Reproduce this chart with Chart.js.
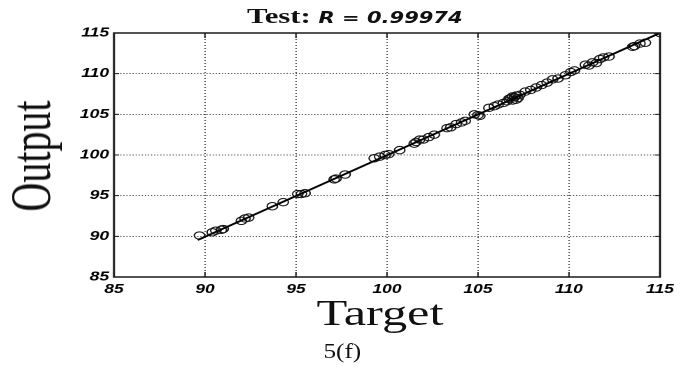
<!DOCTYPE html>
<html>
<head>
<meta charset="utf-8">
<title>Test regression</title>
<script src="https://cdn.jsdelivr.net/npm/chart.js@4/dist/chart.umd.min.js"></script>
<style>
  html, body { margin: 0; padding: 0; background: #fff; overflow: hidden; }
  body { width: 689px; height: 368px; position: relative; }
  /* the whole figure is laid out on a 492px-wide stage and widened 1.4x */
  #stage { position: absolute; left: 0; top: 0; width: 492px; height: 368px;
           transform: scaleX(1.4); transform-origin: 0 0; }
  #chart { position: absolute; left: 0; top: 0; width: 492px; height: 368px; }
  .txt { position: absolute; white-space: nowrap; color: #111; }
  #title { left: 176.4px; top: 4.6px; line-height: 22px; }
  #title .lead { font-family: "Liberation Serif", "Times New Roman", serif; font-weight: bold; font-size: 22px; }
  #title .stat { font-family: "DejaVu Sans", sans-serif; font-weight: bold; font-style: italic; font-size: 15px; }
  #ylab { font-family: "Liberation Serif", "Times New Roman", serif; font-size: 40px; line-height: 40px;
          left: 22.9px; top: 155.9px; transform: translate(-50%, -50%) rotate(-90deg); }
  #xlab { font-family: "Liberation Serif", "Times New Roman", serif; font-size: 36px; line-height: 36px;
          left: 271.4px; top: 295px; transform: translateX(-50%); }
  #cap { font-family: "Liberation Serif", "Times New Roman", serif; font-size: 22px; line-height: 22px;
         left: 231.4px; top: 339.6px; transform: scaleX(0.82); transform-origin: 0 0; }
</style>
</head>
<body>
<div id="stage">
  <canvas id="chart" width="492" height="368"></canvas>
  <div id="title" class="txt"><span class="lead">Test: </span><span class="stat">R = 0.99974</span></div>
  <div id="ylab" class="txt">Output</div>
  <div id="xlab" class="txt">Target</div>
  <div id="cap" class="txt">5(f)</div>
</div>
<script>
// Test-set targets and network outputs
const targets = [
  89.7, 90.4, 90.6, 90.9, 91.0, 92.0, 92.2, 92.4, 93.7, 94.3,
  95.1, 95.3, 95.5, 97.1, 97.2, 97.7, 99.3, 99.6, 99.9, 100.1,
  100.7, 101.5, 101.6, 101.8, 102.0, 102.3, 102.6, 103.3, 103.5, 103.8,
  104.1, 104.3, 104.8, 105.0, 105.1, 105.6, 105.9, 106.1, 106.4, 106.6,
  106.7, 106.8, 106.9, 107.0, 107.1, 107.2, 107.3, 107.1, 106.9, 107.6,
  107.9, 108.2, 108.5, 108.8, 109.1, 109.4, 109.8, 110.1, 110.3, 110.9,
  111.1, 111.3, 111.5, 111.7, 111.9, 112.2, 113.5, 113.6, 113.9, 114.2,
  115.0
];
const outputs = [
  90.1, 90.5, 90.7, 90.8, 90.9, 91.9, 92.2, 92.3, 93.7, 94.2,
  95.2, 95.2, 95.3, 97.0, 97.1, 97.6, 99.6, 99.8, 100.0, 100.1,
  100.6, 101.4, 101.6, 101.9, 101.9, 102.2, 102.5, 103.3, 103.4, 103.8,
  104.0, 104.2, 105.0, 104.9, 104.8, 105.8, 106.0, 106.2, 106.4, 106.6,
  106.9, 107.0, 107.2, 107.1, 107.3, 107.0, 107.4, 106.8, 106.7, 107.8,
  108.0, 108.3, 108.6, 108.9, 109.3, 109.4, 109.8, 110.2, 110.4, 111.1,
  111.0, 111.4, 111.3, 111.8, 112.0, 112.1, 113.3, 113.4, 113.7, 113.8,
  115.0
];

// Linear fit endpoints (Output ~= a*Target + b)
const fitTarget = [89.6, 115.0];
const fitOutput = [89.55, 115.0];

// Axis range and tick values
const axisMin = 85;
const axisMax = 115;
const tickStep = 5;

const points = targets.map((t, i) => ({ x: t, y: outputs[i] }));
const fitPoints = fitTarget.map((t, i) => ({ x: t, y: fitOutput[i] }));

// Solid frame round the axes plus short inward ticks on every side
const frameAndTicks = {
  id: 'frameAndTicks',
  afterDraw(chart) {
    const { ctx, chartArea: a, scales } = chart;
    ctx.save();
    ctx.strokeStyle = '#1a1a1a';
    ctx.lineWidth = 1.5;
    ctx.strokeRect(a.left, a.top, a.right - a.left, a.bottom - a.top);
    ctx.lineWidth = 1;
    ctx.beginPath();
    scales.x.ticks.forEach(t => {
      const px = scales.x.getPixelForValue(t.value);
      ctx.moveTo(px, a.bottom); ctx.lineTo(px, a.bottom - 5);
      ctx.moveTo(px, a.top); ctx.lineTo(px, a.top + 5);
    });
    scales.y.ticks.forEach(t => {
      const py = scales.y.getPixelForValue(t.value);
      ctx.moveTo(a.left, py); ctx.lineTo(a.left + 3.6, py);
      ctx.moveTo(a.right, py); ctx.lineTo(a.right - 3.6, py);
    });
    ctx.stroke();
    ctx.restore();
  }
};

const tickFont = { family: '"Liberation Sans", Arial, sans-serif', size: 12.5, weight: 'bold', style: 'italic' };

new Chart(document.getElementById('chart'), {
  type: 'scatter',
  data: {
    datasets: [
      {
        label: 'Data',
        data: points,
        pointStyle: 'circle',
        pointRadius: 3.7,
        pointBorderWidth: 1,
        borderColor: '#111',
        backgroundColor: 'rgba(0,0,0,0)',
        order: 2
      },
      {
        label: 'Fit',
        type: 'line',
        data: fitPoints,
        borderColor: '#000',
        borderWidth: 1.8,
        pointRadius: 0,
        fill: false,
        order: 1
      }
    ]
  },
  options: {
    responsive: false,
    animation: false,
    devicePixelRatio: 2,
    layout: { padding: { left: 0, top: 33, right: 20.6, bottom: 0 } },
    plugins: { legend: { display: false }, tooltip: { enabled: false }, title: { display: false } },
    scales: {
      x: {
        type: 'linear',
        min: axisMin, max: axisMax,
        afterFit(scale) { scale.height = 91; },
        ticks: { stepSize: tickStep, font: tickFont, color: '#000', padding: 5, maxRotation: 0 },
        grid: { color: '#444', lineWidth: 0.9, drawTicks: false, tickLength: 0 },
        border: { display: false, dash: [1, 2] }
      },
      y: {
        type: 'linear',
        min: axisMin, max: axisMax,
        afterFit(scale) { scale.width = 81.4; },
        ticks: { stepSize: tickStep, font: tickFont, color: '#000', padding: 3.5 },
        grid: { color: '#444', lineWidth: 1, drawTicks: false, tickLength: 0 },
        border: { display: false, dash: [0.8, 1.4] }
      }
    }
  },
  plugins: [frameAndTicks]
});
</script>
</body>
</html>
